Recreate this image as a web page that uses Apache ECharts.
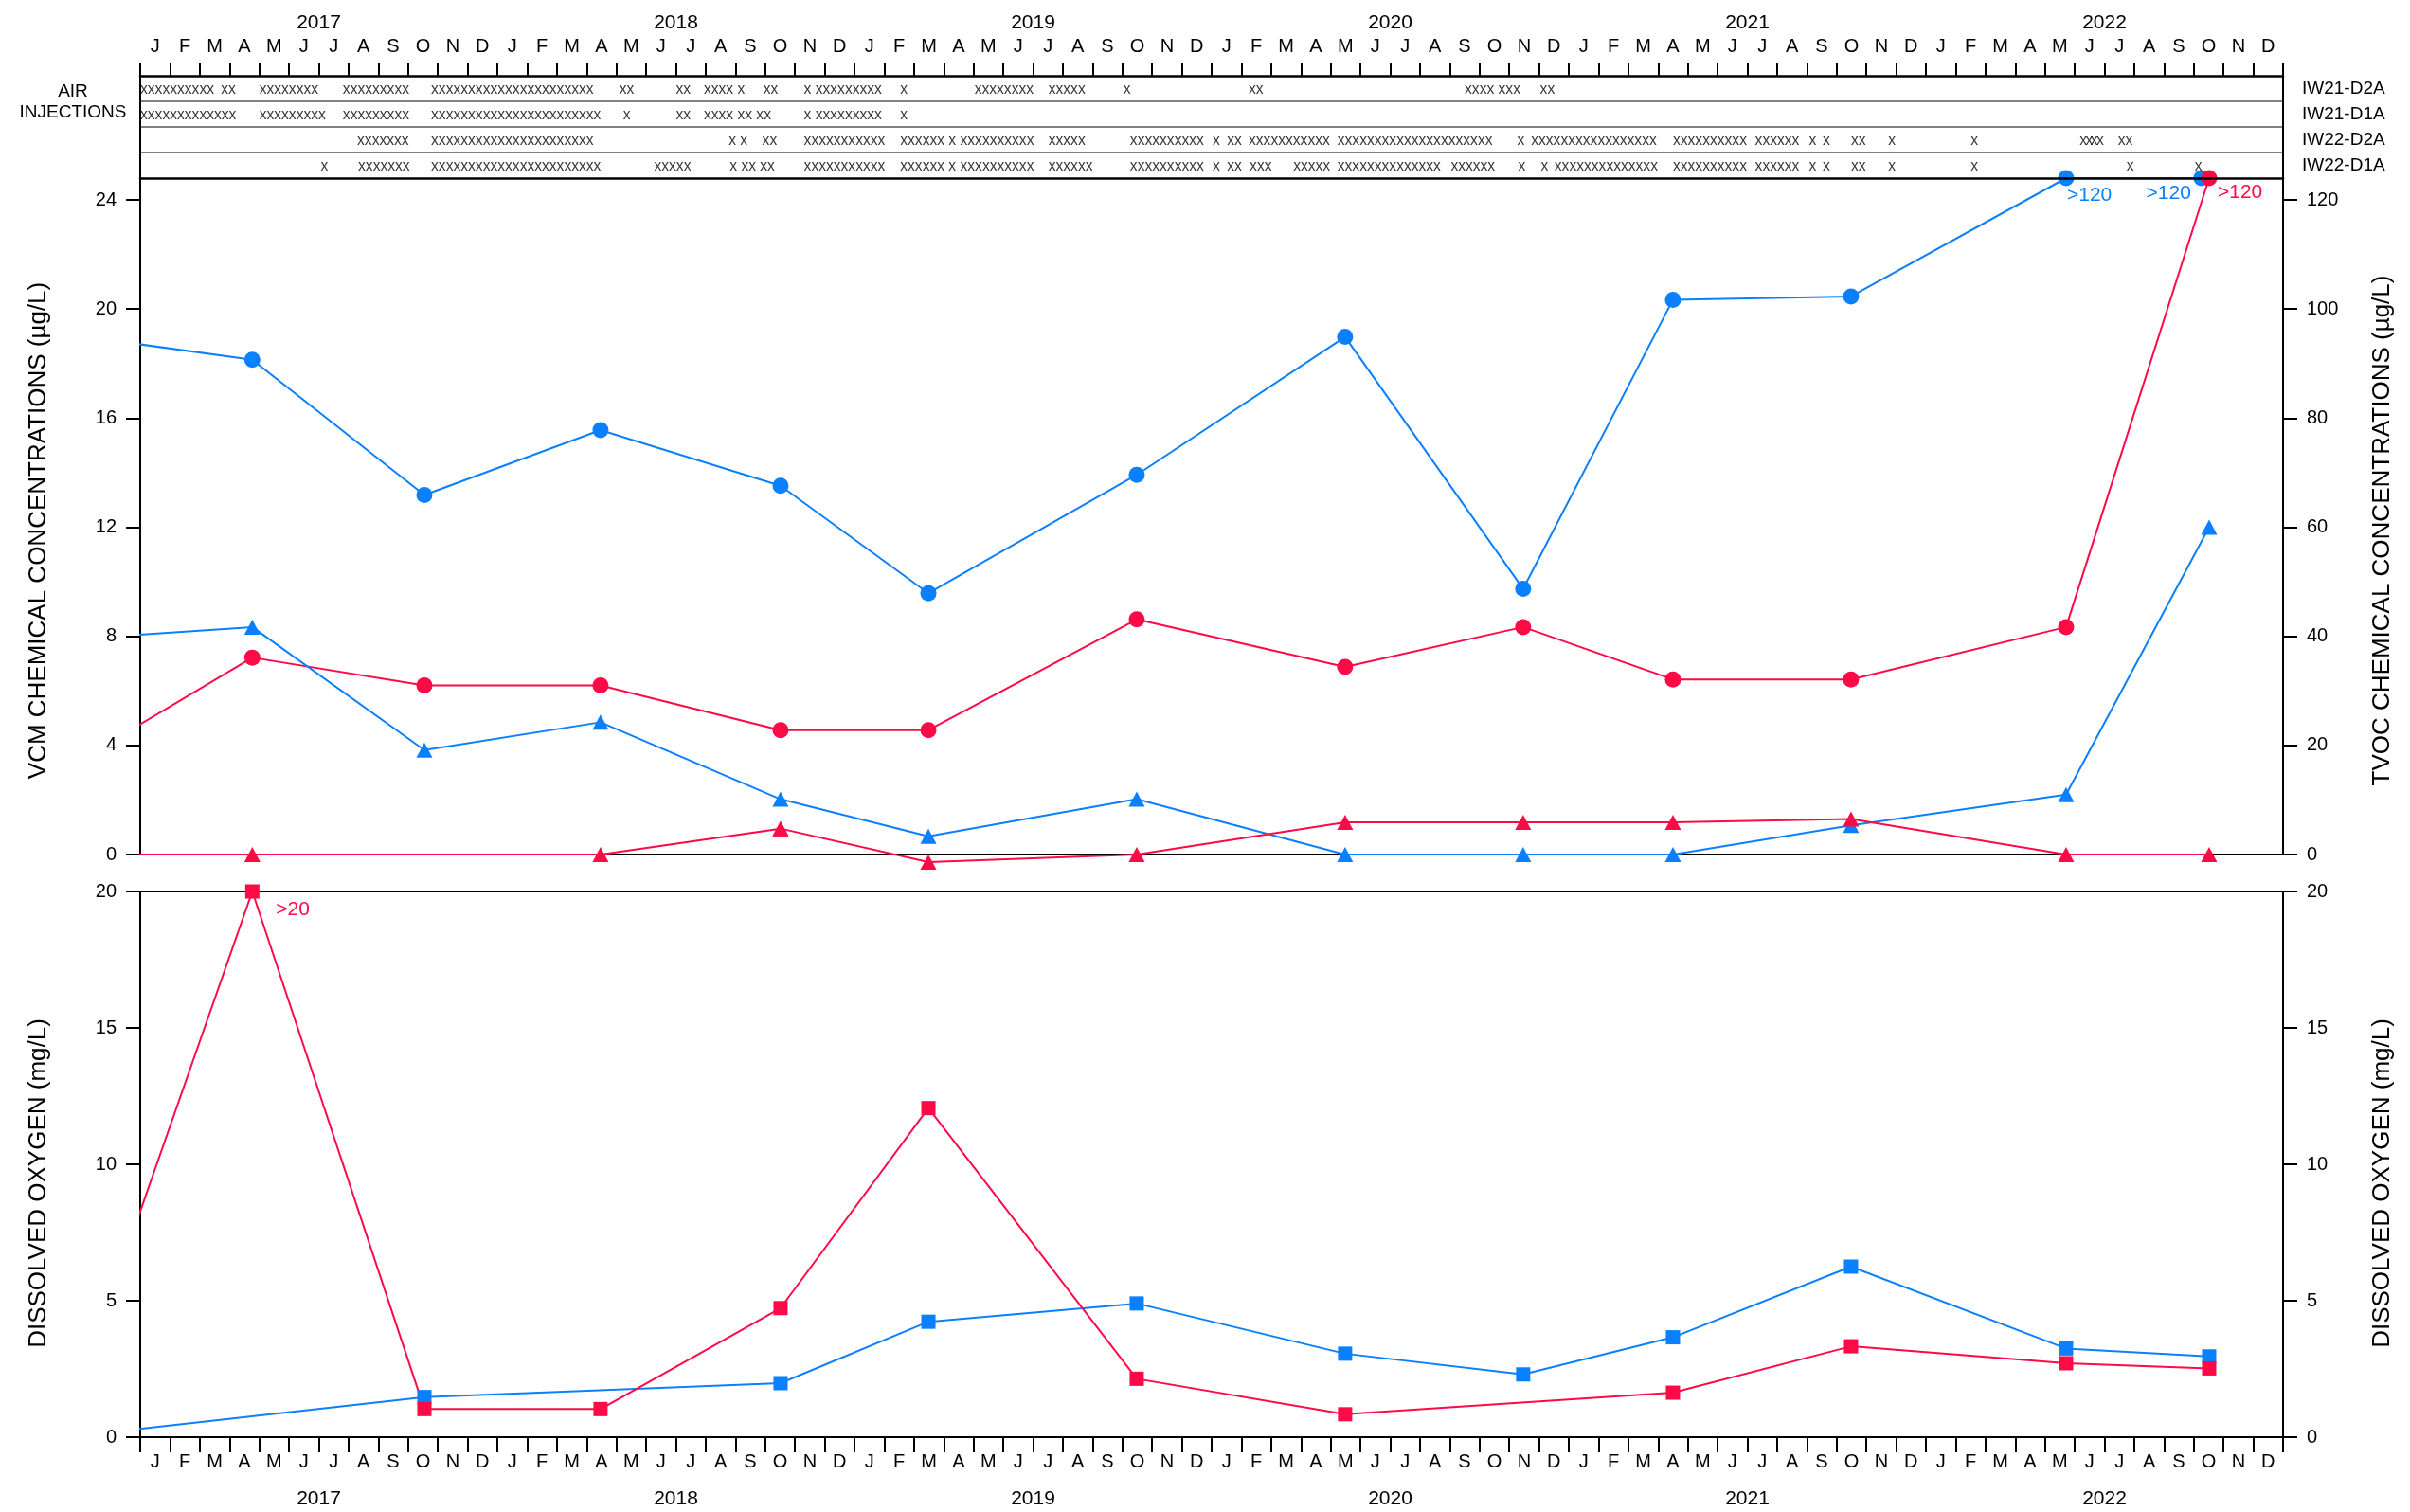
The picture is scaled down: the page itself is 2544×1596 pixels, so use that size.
<!DOCTYPE html>
<html>
<head>
<meta charset="utf-8">
<title>Air injection and groundwater monitoring 2017-2022</title>
<script src="https://cdn.jsdelivr.net/npm/echarts@6/dist/echarts.min.js"></script>
<style>
  html, body { margin: 0; padding: 0; background: #fff; }
  #chart { width: 2544px; height: 1596px; }
</style>
</head>
<body>
<div id="chart"></div>
<script>
// ---- axis labels ----
const MONTH_LETTERS = ['J','F','M','A','M','J','J','A','S','O','N','D'];
const YEARS = ['2017','2018','2019','2020','2021','2022'];
const WELLS = ['IW21-D2A','IW21-D1A','IW22-D2A','IW22-D1A'];
const VCM_TICKS = [0, 4, 8, 12, 16, 20, 24];
const TVOC_TICKS = [0, 20, 40, 60, 80, 100, 120];
const DO_TICKS = [0, 5, 10, 15, 20];

// ---- air injection log: [first day of run, marks] ----
const injIW21D2A = [
  ['2017-01-01', 'xxxxxxxxxx'],
  ['2017-03-23', 'xx'],
  ['2017-05-01', 'xxxxxxxx'],
  ['2017-07-26', 'xxxxxxxxx'],
  ['2017-10-25', 'xxxxxxxxxxxxxxxxxxxxxx'],
  ['2018-05-04', 'xx'],
  ['2018-07-01', 'xx'],
  ['2018-07-30', 'xxxx x'],
  ['2018-09-29', 'xx'],
  ['2018-11-10', 'x xxxxxxxxx'],
  ['2019-02-16', 'x'],
  ['2019-05-02', 'xxxxxxxx'],
  ['2019-07-17', 'xxxxx'],
  ['2019-10-02', 'x'],
  ['2020-02-08', 'xx'],
  ['2020-09-16', 'xxxx xxx'],
  ['2020-12-02', 'xx']
];
const injIW21D1A = [
  ['2017-01-01', 'xxxxxxxxxxxxx'],
  ['2017-05-01', 'xxxxxxxxx'],
  ['2017-07-26', 'xxxxxxxxx'],
  ['2017-10-25', 'xxxxxxxxxxxxxxxxxxxxxxx'],
  ['2018-05-08', 'x'],
  ['2018-07-01', 'xx'],
  ['2018-07-30', 'xxxx xx xx'],
  ['2018-11-10', 'x xxxxxxxxx'],
  ['2019-02-16', 'x']
];
const injIW22D2A = [
  ['2017-08-10', 'xxxxxxx'],
  ['2017-10-25', 'xxxxxxxxxxxxxxxxxxxxxx'],
  ['2018-08-25', 'x x'],
  ['2018-09-28', 'xx'],
  ['2018-11-10', 'xxxxxxxxxxx'],
  ['2019-02-16', 'xxxxxx x xxxxxxxxxx'],
  ['2019-07-17', 'xxxxx'],
  ['2019-10-09', 'xxxxxxxxxx'],
  ['2020-01-02', 'x'],
  ['2020-01-17', 'xx'],
  ['2020-02-08', 'xxxxxxxxxxx'],
  ['2020-05-08', 'xxxxxxxxxxxxxxxxxxxxx'],
  ['2020-11-09', 'x'],
  ['2020-11-23', 'xxxxxxxxxxxxxxxxx'],
  ['2021-04-16', 'xxxxxxxxxx'],
  ['2021-07-09', 'xxxxxx'],
  ['2021-09-03', 'x'],
  ['2021-09-17', 'x'],
  ['2021-10-16', 'xx'],
  ['2021-11-23', 'x'],
  ['2022-02-15', 'x'],
  ['2022-06-06', 'x'],
  ['2022-06-12', 'x'],
  ['2022-06-17', 'x'],
  ['2022-06-23', 'x'],
  ['2022-07-15', 'xx']
];
const injIW22D1A = [
  ['2017-07-03', 'x'],
  ['2017-08-11', 'xxxxxxx'],
  ['2017-10-25', 'xxxxxxxxxxxxxxxxxxxxxxx'],
  ['2018-06-09', 'xxxxx'],
  ['2018-08-26', 'x xx xx'],
  ['2018-11-10', 'xxxxxxxxxxx'],
  ['2019-02-16', 'xxxxxx x xxxxxxxxxx'],
  ['2019-07-17', 'xxxxxx'],
  ['2019-10-09', 'xxxxxxxxxx'],
  ['2020-01-02', 'x'],
  ['2020-01-17', 'xx'],
  ['2020-02-09', 'xxx'],
  ['2020-03-24', 'xxxxx'],
  ['2020-05-08', 'xxxxxxxxxxxxxx'],
  ['2020-09-02', 'xxxxxx'],
  ['2020-11-10', 'x'],
  ['2020-12-03', 'x'],
  ['2020-12-17', 'xxxxxxxxxxxxxx'],
  ['2021-04-16', 'xxxxxxxxxx'],
  ['2021-07-09', 'xxxxxx'],
  ['2021-09-03', 'x'],
  ['2021-09-17', 'x'],
  ['2021-10-16', 'xx'],
  ['2021-11-23', 'x'],
  ['2022-02-15', 'x'],
  ['2022-07-24', 'x'],
  ['2022-10-02', 'x']
];

// ---- groundwater results: [sample date, value, reported as] ----
// TVOC (µg/L, right axis) - circles
const tvocWellA = [
  ['2016-10-16', 95.4], ['2017-04-24', 90.7], ['2017-10-18', 65.9], ['2018-04-15', 77.8],
  ['2018-10-17', 67.6], ['2019-03-16', 47.9], ['2019-10-16', 69.6], ['2020-05-16', 94.9],
  ['2020-11-15', 48.7], ['2021-04-16', 101.7], ['2021-10-16', 102.3],
  ['2022-05-23', 124, '>120'], ['2022-10-09', 124, '>120']
];
const tvocWellB = [
  ['2016-10-16', 15.7], ['2017-04-24', 36.1], ['2017-10-18', 31.0], ['2018-04-15', 31.0],
  ['2018-10-17', 22.8], ['2019-03-16', 22.8], ['2019-10-16', 43.1], ['2020-05-16', 34.4],
  ['2020-11-15', 41.7], ['2021-04-16', 32.1], ['2021-10-16', 32.1], ['2022-05-23', 41.7],
  ['2022-10-17', 124, '>120']
];
// VCM (µg/L, left axis) - triangles
const vcmWellA = [
  ['2016-10-16', 7.87], ['2017-04-24', 8.34], ['2017-10-18', 3.83], ['2018-04-15', 4.85],
  ['2018-10-17', 2.03], ['2019-03-16', 0.67], ['2019-10-16', 2.03], ['2020-05-16', 0],
  ['2020-11-15', 0], ['2021-04-16', 0], ['2021-10-16', 1.07], ['2022-05-23', 2.2],
  ['2022-10-17', 12.0]
];
const vcmWellB = [
  ['2016-10-16', 0], ['2017-04-24', 0], ['2018-04-15', 0], ['2018-10-17', 0.95],
  ['2019-03-16', -0.28], ['2019-10-16', 0], ['2020-05-16', 1.18], ['2020-11-15', 1.18],
  ['2021-04-16', 1.18], ['2021-10-16', 1.3], ['2022-05-23', 0], ['2022-10-17', 0]
];
// Dissolved oxygen (mg/L) - squares
const doWellA = [
  ['2016-10-16', 0], ['2017-10-18', 1.47], ['2018-10-17', 1.98], ['2019-03-16', 4.23],
  ['2019-10-16', 4.9], ['2020-05-16', 3.06], ['2020-11-15', 2.30], ['2021-04-16', 3.66],
  ['2021-10-16', 6.25], ['2022-05-23', 3.25], ['2022-10-17', 2.96]
];
const doWellB = [
  ['2016-10-16', 0.45], ['2017-04-24', 20, '>20'], ['2017-10-18', 1.03], ['2018-04-15', 1.03],
  ['2018-10-17', 4.73], ['2019-03-16', 12.06], ['2019-10-16', 2.14], ['2020-05-16', 0.84],
  ['2021-04-16', 1.63], ['2021-10-16', 3.33], ['2022-05-23', 2.71], ['2022-10-17', 2.52]
];

// ---- helpers ----
const FONT = '"Liberation Sans", Arial, Helvetica, sans-serif';
const BLUE = '#0a80ff';
const RED = '#ff0a46';
const BLACK = '#000';

// months elapsed since 1 Jan 2017 (fractional)
function toMonth(s) {
  const [y, m, d] = s.split('-').map(Number);
  const daysInMonth = new Date(y, m, 0).getDate();
  return (y - 2017) * 12 + (m - 1) + (d - 1) / daysInMonth;
}

const MONTH_LABELS = [];
YEARS.forEach(() => MONTH_LETTERS.forEach(l => MONTH_LABELS.push(l)));

function monthAxis(gridIndex, position, extra) {
  return Object.assign({
    type: 'value', gridIndex, position, min: 0, max: 72, interval: 1,
    axisLine: { show: true, onZero: false, lineStyle: { color: BLACK, width: 2 } },
    axisTick: { show: false },
    axisLabel: { show: false },
    splitLine: { show: false }
  }, extra || {});
}

function labelAxis(gridIndex, position, data, margin, fontSize) {
  return {
    type: 'category', gridIndex, position, data, boundaryGap: true,
    axisLine: { show: false, onZero: false }, axisTick: { show: false },
    axisLabel: { interval: 0, margin, fontSize, color: BLACK, fontFamily: FONT },
    splitLine: { show: false }
  };
}

// namePad shifts the rotated title down along the axis
function valueAxis(gridIndex, position, max, interval, ticks, name, nameGap, namePad) {
  return {
    type: 'value', gridIndex, position, min: 0, max, interval,
    axisLine: { show: true, onZero: false, lineStyle: { color: BLACK, width: 2 } },
    axisTick: { show: true, length: 15, customValues: ticks, lineStyle: { color: BLACK, width: 2 } },
    axisLabel: { customValues: ticks, margin: 25, fontSize: 20, color: BLACK, fontFamily: FONT, showMinLabel: true, showMaxLabel: true },
    splitLine: { show: false },
    name, nameLocation: 'middle', nameRotate: 90, nameGap,
    nameTextStyle: { fontSize: 26, color: BLACK, fontFamily: FONT, padding: [0, namePad, 0, 0] }
  };
}

function injectionSeries(well, runs) {
  return {
    type: 'scatter', name: well, xAxisIndex: 0, yAxisIndex: 0, silent: true,
    symbol: 'rect', symbolSize: 1, itemStyle: { color: 'rgba(0,0,0,0)' },
    data: runs.map(([d, marks]) => ({ value: [toMonth(d), well], marks })),
    label: {
      show: true, position: 'inside', align: 'left', verticalAlign: 'middle', offset: [0, 1],
      formatter: p => p.data.marks, fontSize: 15.6, fontFamily: FONT, color: BLACK
    },
    z: 3
  };
}

// notePlacement: label placement for the points reported as ">" values, in order
function resultSeries(name, rows, color, symbol, symbolSize, xAxisIndex, yAxisIndex, notePlacement, extra) {
  let k = 0;
  const data = rows.map(([d, v, note]) => {
    const item = { value: [toMonth(d), v] };
    if (note) {
      const pl = notePlacement[k++] || { align: 'left', offset: [0, 18] };
      item.label = {
        show: true, formatter: note, position: 'inside', align: pl.align, verticalAlign: 'middle',
        offset: pl.offset, color, fontSize: 21, fontFamily: FONT
      };
    }
    return item;
  });
  return Object.assign({
    type: 'line', name, xAxisIndex, yAxisIndex, data,
    symbol, symbolSize, showSymbol: true, clip: true,
    itemStyle: { color }, lineStyle: { color, width: 2 },
    label: { show: false }, emphasis: { disabled: true }, silent: true
  }, extra || {});
}

// the VCM line of the second well dips below the zero line in 2019; let that part draw outside the plot
const VCM_B_SPLIT = 3;

const option = {
  animation: false,
  backgroundColor: '#fff',
  textStyle: { fontFamily: FONT },
  grid: [
    { left: 148, right: 134, top: 80, height: 108 },   // air injection log
    { left: 148, right: 134, top: 188, height: 714 },  // VCM / TVOC
    { left: 148, right: 134, top: 941, height: 576 }   // dissolved oxygen
  ],
  xAxis: [
    monthAxis(0, 'top', {
      axisLine: { show: true, onZero: false, lineStyle: { color: BLACK, width: 2.5 } },
      axisTick: { show: true, length: 14, inside: false, lineStyle: { color: BLACK, width: 2 } },
      z: 5
    }),
    labelAxis(0, 'top', MONTH_LABELS, 21, 20),
    labelAxis(0, 'top', YEARS, 45, 21),
    monthAxis(0, 'bottom', { axisLine: { show: true, onZero: false, lineStyle: { color: BLACK, width: 2.5 } }, z: 5 }),
    monthAxis(1, 'bottom'),
    monthAxis(2, 'top'),
    monthAxis(2, 'bottom', {
      axisTick: { show: true, length: 16, inside: false, lineStyle: { color: BLACK, width: 2 } }
    }),
    labelAxis(2, 'bottom', MONTH_LABELS, 16, 20),
    labelAxis(2, 'bottom', YEARS, 55, 21)
  ],
  yAxis: [
    {
      type: 'category', gridIndex: 0, data: WELLS, inverse: true, position: 'left', boundaryGap: true,
      axisLine: { show: true, onZero: false, lineStyle: { color: BLACK, width: 2 } },
      axisTick: { show: false }, axisLabel: { show: false },
      splitLine: { show: true, showMinLine: false, showMaxLine: false, lineStyle: { color: '#808080', width: 2 } }
    },
    {
      type: 'category', gridIndex: 0, data: WELLS, inverse: true, position: 'right', boundaryGap: true,
      axisLine: { show: true, onZero: false, lineStyle: { color: BLACK, width: 2 } },
      axisTick: { show: false },
      axisLabel: { show: true, margin: 20, fontSize: 19, color: BLACK, fontFamily: FONT },
      splitLine: { show: false }
    },
    valueAxis(1, 'left', 24.8, 4, VCM_TICKS, 'VCM CHEMICAL CONCENTRATIONS (µg/L)', 94, 30),
    valueAxis(1, 'right', 124, 20, TVOC_TICKS, 'TVOC CHEMICAL CONCENTRATIONS (µg/L)', 92, 30),
    valueAxis(2, 'left', 20, 5, DO_TICKS, 'DISSOLVED OXYGEN (mg/L)', 94, 40),
    valueAxis(2, 'right', 20, 5, DO_TICKS, 'DISSOLVED OXYGEN (mg/L)', 92, 40)
  ],
  graphic: [{
    type: 'text', x: 77, y: 108, silent: true,
    style: {
      text: 'AIR\nINJECTIONS', align: 'center', verticalAlign: 'middle',
      fontSize: 19, fontFamily: FONT, lineHeight: 22, fill: BLACK
    }
  }],
  series: [
    injectionSeries(WELLS[0], injIW21D2A),
    injectionSeries(WELLS[1], injIW21D1A),
    injectionSeries(WELLS[2], injIW22D2A),
    injectionSeries(WELLS[3], injIW22D1A),

    resultSeries('TVOC A', tvocWellA, BLUE, 'circle', 17, 4, 3,
      [{ align: 'left', offset: [1, 18] }, { align: 'right', offset: [-11, 16] }]),
    resultSeries('TVOC B', tvocWellB, RED, 'circle', 17, 4, 3,
      [{ align: 'left', offset: [9, 15] }]),
    resultSeries('VCM A', vcmWellA, BLUE, 'triangle', [17, 16], 4, 2, []),
    resultSeries('VCM B', vcmWellB.slice(0, VCM_B_SPLIT + 1), RED, 'triangle', [17, 16], 4, 2, []),
    resultSeries('VCM B', vcmWellB.slice(VCM_B_SPLIT), RED, 'triangle', [17, 16], 4, 2, [], { clip: false }),

    resultSeries('DO A', doWellA, BLUE, 'rect', 15, 6, 4, []),
    resultSeries('DO B', doWellB, RED, 'rect', 15, 6, 4,
      [{ align: 'left', offset: [25, 19] }])
  ]
};

const chart = echarts.init(document.getElementById('chart'), null, { renderer: 'canvas' });
chart.setOption(option);
</script>
</body>
</html>
